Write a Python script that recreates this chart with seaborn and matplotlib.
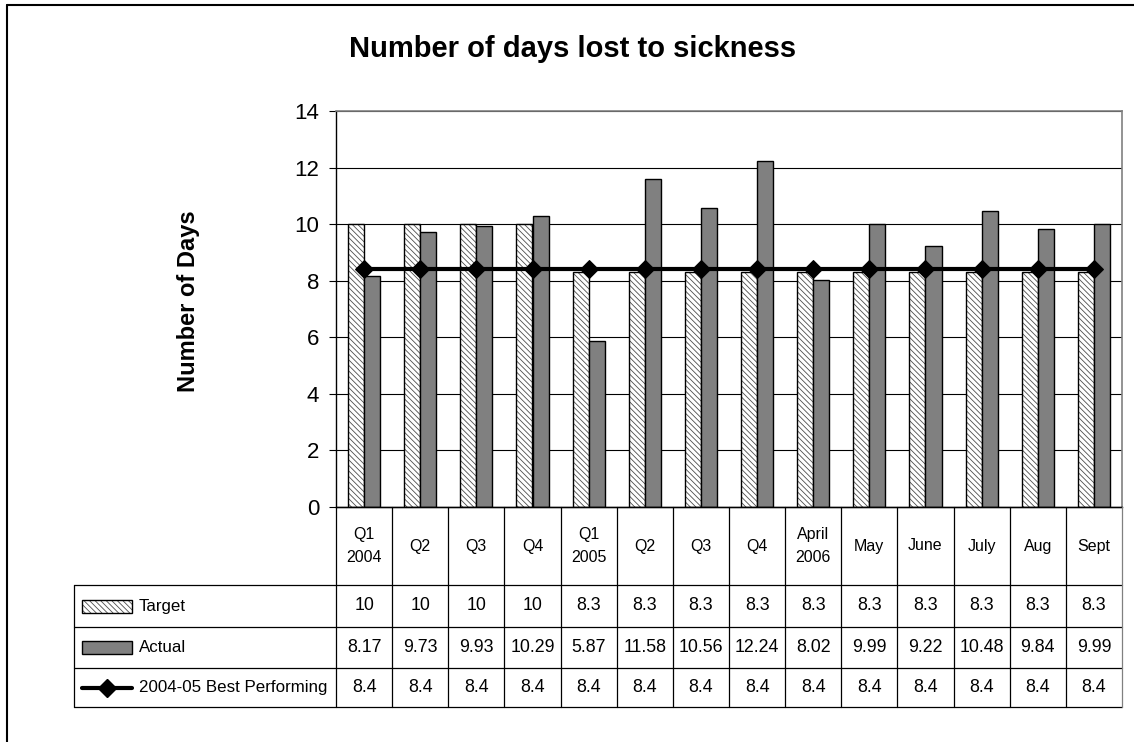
import matplotlib
matplotlib.use("Agg")
import matplotlib.pyplot as plt
import matplotlib.transforms as mtransforms
from matplotlib.lines import Line2D
from matplotlib.patches import Rectangle
from matplotlib import font_manager
import pandas as pd
import seaborn as sns

# ---- data -------------------------------------------------------------
periods = ["Q1\n2004", "Q2", "Q3", "Q4", "Q1\n2005", "Q2", "Q3", "Q4",
           "April\n2006", "May", "June", "July", "Aug", "Sept"]
target = [10, 10, 10, 10, 8.3, 8.3, 8.3, 8.3, 8.3, 8.3, 8.3, 8.3, 8.3, 8.3]
actual = [8.17, 9.73, 9.93, 10.29, 5.87, 11.58, 10.56, 12.24, 8.02, 9.99,
          9.22, 10.48, 9.84, 9.99]
best = [8.4, 8.4, 8.4, 8.4, 8.4, 8.4, 8.4, 8.4, 8.4, 8.4, 8.4, 8.4, 8.4, 8.4]
target_label = "Target"
actual_label = "Actual"
best_label = "2004-05 Best Performing"
title = "Number of days lost to sickness"
ylabel = "Number of Days"

# ---- styling ------------------------------------------------------------
sns.set_theme(style="white")
plt.rcParams["font.family"] = ["Liberation Sans", "DejaVu Sans"]
plt.rcParams["hatch.linewidth"] = 0.6

HATCH = "\\\\\\\\\\\\"
HATCH_COLOR = (0.3, 0.3, 0.3, 1.0)

try:
    font_manager.findfont("Liberation Sans Narrow", fallback_to_default=False)
    table_family = ["Liberation Sans Narrow", "Liberation Sans"]
    val_size, cat_size, head_size = 15, 13, 15
except Exception:
    table_family = ["Liberation Sans", "DejaVu Sans"]
    val_size, cat_size, head_size = 12.8, 11.5, 12.2

W, H = 1134, 742
fig = plt.figure(figsize=(W / 100, H / 100), dpi=100)


def fx(px):
    return px / W


def fy(py):
    return 1 - py / H


def grey_hatch(patch):
    patch.set_hatch(HATCH)
    try:
        patch._hatch_color = HATCH_COLOR
    except Exception:
        pass


ax = fig.add_axes([fx(336), fy(507), fx(1122) - fx(336), fy(111) - fy(507)])

idx = list(range(len(periods)))
df = pd.DataFrame({
    "period": idx * 2,
    "series": [target_label] * len(idx) + [actual_label] * len(idx),
    "value": target + actual,
})

sns.barplot(data=df, x="period", y="value", hue="series",
            hue_order=[target_label, actual_label],
            palette={target_label: "white", actual_label: "#808080"},
            saturation=1, width=0.57, edgecolor="black", linewidth=1.0,
            legend=False, ax=ax, zorder=2)
for bar in ax.containers[0]:
    grey_hatch(bar)

sns.lineplot(x=idx, y=best, color="black", linewidth=3, marker="D",
             markersize=9, markeredgecolor="black", ax=ax, zorder=4,
             legend=False)

ax.set_xlim(-0.5, len(periods) - 0.5)
ax.set_ylim(0, 14)
ax.set_yticks(range(0, 15, 2))
ax.set_xticks([])
ax.set_xlabel("")
ax.set_ylabel("")
ax.set_axisbelow(True)
ax.yaxis.grid(True, color="black", linewidth=0.8)
ax.tick_params(axis="y", which="major", left=True, length=5, width=0.8,
               color="black", pad=7, labelsize=16, labelcolor="black")
for side in ("top", "right"):
    ax.spines[side].set_color("#808080")
    ax.spines[side].set_linewidth(1.2)
for side in ("left", "bottom"):
    ax.spines[side].set_color("black")
    ax.spines[side].set_linewidth(1.0)

# ---- titles -------------------------------------------------------------
fig.text(fx(573), fy(57), title, ha="center", va="baseline",
         fontsize=21, fontweight="bold", color="black")
fig.text(fx(188), fy(301), ylabel, ha="center", va="center", rotation=90,
         fontsize=17, fontweight="bold", color="black")

# ---- data table ---------------------------------------------------------
blend = mtransforms.blended_transform_factory(ax.transData, fig.transFigure)
row_edges = [507, 585, 627, 668, 707]
left_px = 74
right_fig = ax.get_position().x1
lc = "black"
lw = 0.9

# horizontal rules
fig.add_artist(Line2D([fx(336), right_fig], [fy(507)] * 2, color=lc, lw=lw,
                      transform=fig.transFigure))
for r in row_edges[1:]:
    fig.add_artist(Line2D([fx(left_px), right_fig], [fy(r)] * 2, color=lc,
                          lw=lw, transform=fig.transFigure))
# vertical rules
for i in range(len(periods) + 1):
    fig.add_artist(Line2D([i - 0.5, i - 0.5], [fy(507), fy(707)],
                          color="#808080" if i == len(periods) else lc,
                          lw=lw, transform=blend))
fig.add_artist(Line2D([fx(left_px)] * 2, [fy(585), fy(707)], color=lc, lw=lw,
                      transform=fig.transFigure))

# category labels
for i, lab in enumerate(periods):
    fig.text(i, fy(546), lab, transform=blend, ha="center", va="center",
             fontsize=cat_size, family=table_family, linespacing=1.75,
             color="black")

# values
rows = [(target, target_label), (actual, actual_label), (best, best_label)]
for (vals, _), top, bot in zip(rows, row_edges[1:-1], row_edges[2:]):
    yc = fy((top + bot) / 2)
    for i, v in enumerate(vals):
        fig.text(i, yc, f"{v:g}", transform=blend, ha="center", va="center",
                 fontsize=val_size, family=table_family, color="black")

# row headers with legend keys
for (vals, lab), top, bot in zip(rows, row_edges[1:-1], row_edges[2:]):
    yc_px = (top + bot) / 2
    fig.text(fx(139), fy(yc_px), lab, ha="left", va="center",
             fontsize=head_size, family=table_family, color="black")

key_t = Rectangle((fx(82), fy(613)), fx(132) - fx(82), fy(600) - fy(613),
                  facecolor="white", edgecolor="black", linewidth=1.0,
                  transform=fig.transFigure)
grey_hatch(key_t)
key_a = Rectangle((fx(82), fy(654)), fx(132) - fx(82), fy(641) - fy(654),
                  facecolor="#808080", edgecolor="black", linewidth=1.0,
                  transform=fig.transFigure)
fig.add_artist(key_t)
fig.add_artist(key_a)
fig.add_artist(Line2D([fx(82), fx(132)], [fy(688)] * 2, color="black", lw=3,
                      transform=fig.transFigure))
fig.add_artist(Line2D([fx(107)], [fy(688)], color="black", marker="D",
                      markersize=9, transform=fig.transFigure))

# ---- outer frame --------------------------------------------------------
fig.add_artist(Line2D([fx(7), fx(7)], [fy(5), 0], color="black", lw=1.5,
                      transform=fig.transFigure))
fig.add_artist(Line2D([fx(7), 1], [fy(5), fy(5)], color="black", lw=1.5,
                      transform=fig.transFigure))

fig.savefig("out.png", dpi=100)
